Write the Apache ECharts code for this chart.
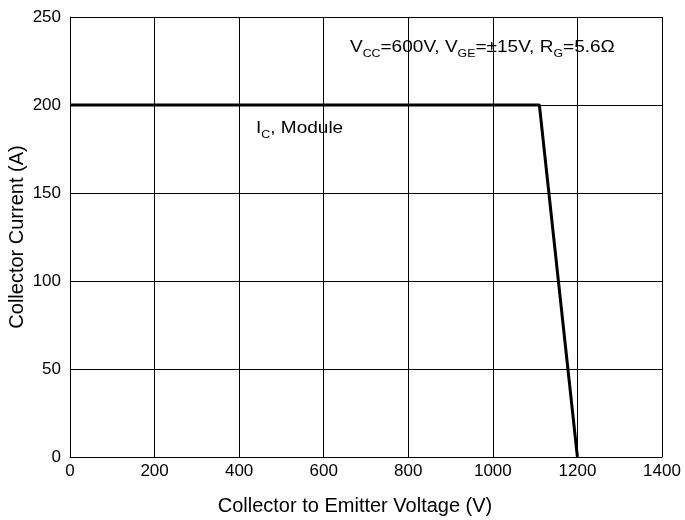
<!DOCTYPE html>
<html>
<head>
<meta charset="utf-8">
<script src="https://cdn.jsdelivr.net/npm/echarts@6/dist/echarts.min.js"></script>
<style>
  html, body { margin: 0; padding: 0; background: #fff; }
  #chart { width: 685px; height: 520px; }
</style>
</head>
<body>
<div id="chart"></div>
<script>
// RBSOA limit curve
const voltage = [0, 1110, 1200]
const current = [200, 200, 0]
const xTicks = [0, 200, 400, 600, 800, 1000, 1200, 1400]
const yTicks = [0, 50, 100, 150, 200, 250]

const font = 'Liberation Sans, Arial, sans-serif'
const chart = echarts.init(document.getElementById('chart'))

const subStyle = { fontSize: 11, fontFamily: font, fill: '#000', verticalAlign: 'bottom', padding: [12, 0, 0, 0] }

chart.setOption({
  backgroundColor: '#ffffff',
  animation: false,
  grid: { left: 70, right: 23, top: 17, bottom: 63, containLabel: false, outerBoundsMode: 'none' },
  xAxis: {
    type: 'value',
    min: xTicks[0],
    max: xTicks[xTicks.length - 1],
    interval: 200,
    name: 'Collector to Emitter Voltage (V)',
    nameLocation: 'middle',
    nameGap: 39,
    nameTextStyle: { color: '#000', fontSize: 20, fontFamily: font, padding: [0, 22, 0, 0] },
    axisLine: { lineStyle: { color: '#000', width: 1 } },
    axisTick: { show: false },
    axisLabel: { color: '#000', fontSize: 17, fontFamily: font, margin: 6, formatter: (v) => String(v) },
    splitLine: { lineStyle: { color: '#000', width: 1 } },
  },
  yAxis: {
    type: 'value',
    min: yTicks[0],
    max: yTicks[yTicks.length - 1],
    interval: 50,
    name: 'Collector Current (A)',
    nameLocation: 'middle',
    nameGap: 43,
    nameMoveOverlap: false,
    nameTextStyle: { color: '#000', fontSize: 20, fontFamily: font },
    axisLine: { lineStyle: { color: '#000', width: 1 } },
    axisTick: { show: false },
    axisLabel: { color: '#000', fontSize: 17, fontFamily: font, margin: 9 },
    splitLine: { lineStyle: { color: '#000', width: 1 } },
  },
  series: [
    {
      type: 'line',
      data: voltage.map((v, i) => [v, current[i]]),
      showSymbol: false,
      lineStyle: { color: '#000', width: 3 },
    },
  ],
  graphic: [
    {
      type: 'text',
      left: 350,
      top: 39,
      scaleX: 1.12,
      style: {
        text: 'V{s|CC}=600V, V{s|GE}=±15V, R{s|G}=5.6Ω',
        fontSize: 17,
        fontFamily: font,
        fill: '#000',
        rich: { s: subStyle },
      },
    },
    {
      type: 'text',
      left: 256,
      top: 120,
      scaleX: 1.12,
      style: {
        text: 'I{s|C}, Module',
        fontSize: 17,
        fontFamily: font,
        fill: '#000',
        rich: { s: subStyle },
      },
    },
  ],
})
</script>
</body>
</html>
